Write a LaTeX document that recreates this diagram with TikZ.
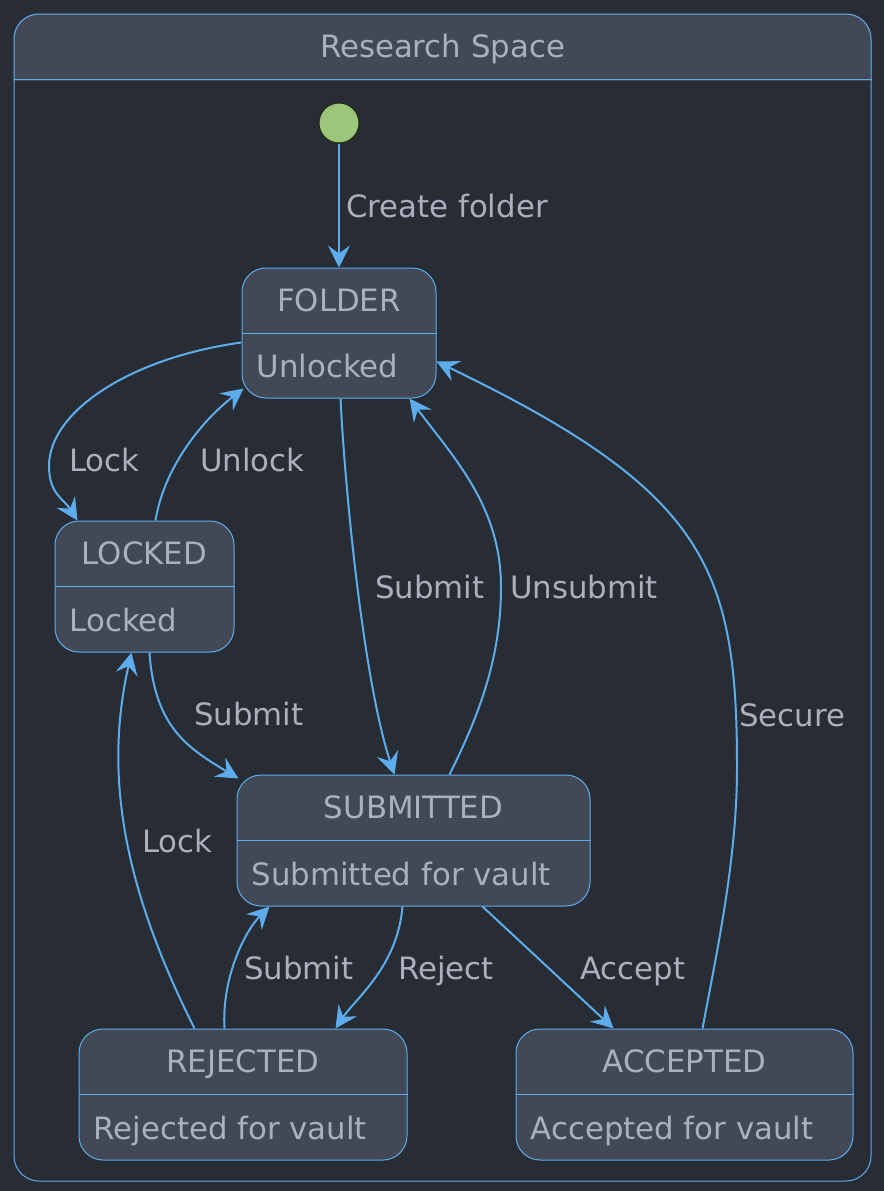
\documentclass[tikz,border=0pt]{standalone}
\usepackage{fontspec}
\setmainfont{DejaVu Sans}
\usetikzlibrary{arrows.meta,calc}
\definecolor{bg}{HTML}{282C34}
\definecolor{boxfill}{HTML}{434857}
\definecolor{edge}{HTML}{5DADEC}
\definecolor{fg}{HTML}{AAB0BE}
\definecolor{startgreen}{HTML}{9CC67A}
\definecolor{startline}{HTML}{1E2A14}
\pgfdeclarelayer{background}
\pgfsetlayers{background,main}
\begin{document}
\begin{tikzpicture}[x=1pt,y=-1pt,
  statebox/.style={draw=edge, fill=boxfill, line width=1pt, rounded corners=24pt, inner sep=0pt, minimum height=131pt},
  txt/.style={text=fg, inner sep=0pt, font=\fontsize{30.8}{36}\selectfont, text height=22.5pt, text depth=0pt},
  lbl/.style={txt, anchor=west},
  divider/.style={draw=edge, line width=1pt},
  conn/.style={draw=edge, line width=2pt, -{Stealth[length=22pt,width=22pt,inset=8pt]}}]
\useasboundingbox (0,0) rectangle (884,1191);
% container
\node[draw=edge, line width=1pt, rounded corners=25pt, minimum width=857pt, minimum height=1167pt, inner sep=0pt] (space) at (442.5,597.5) {};
\begin{pgfonlayer}{background}
  \fill[bg] (0,0) rectangle (884,1191);
  \begin{scope}
    \clip (0,0) rectangle (884,80);
    \fill[boxfill, rounded corners=25pt] (space.north west) rectangle (space.south east);
  \end{scope}
\end{pgfonlayer}
\draw[divider] ($(space.north west)+(0,66)$) -- ($(space.north east)+(0,66)$);
\node[txt] (title) at ($(space.north)+(0,33)$) {Research Space};

% initial state
\node[circle, fill=startgreen, draw=startline, line width=1pt, minimum size=40pt, inner sep=0pt] (init) at (339,123) {};

% states
\node[statebox, minimum width=194pt, minimum height=130pt] (folder) at (339,333) {};
\node[statebox, minimum width=179pt] (locked) at (144.5,586.5) {};
\node[statebox, minimum width=353pt] (submitted) at (413.5,840.5) {};
\node[statebox, minimum width=328pt] (rejected) at (243,1094.5) {};
\node[statebox, minimum width=337pt] (accepted) at (684.5,1094.5) {};

\draw[divider] (folder.west) -- (folder.east);
\draw[divider] (locked.west) -- (locked.east);
\draw[divider] (submitted.west) -- (submitted.east);
\draw[divider] (rejected.west) -- (rejected.east);
\draw[divider] (accepted.west) -- (accepted.east);

\node[txt] (folderT) at ($(folder.north)+(0,32.5)$) {FOLDER};
\node[txt, anchor=west] (folderB) at ($(folder.south west)+(15,-32.5)$) {Unlocked};
\node[txt] (lockedT) at ($(locked.north)+(0,32.5)$) {LOCKED};
\node[txt, anchor=west] (lockedB) at ($(locked.south west)+(15,-32.5)$) {Locked};
\node[txt] (submittedT) at ($(submitted.north)+(0,32.5)$) {SUBMITTED};
\node[txt, anchor=west] (submittedB) at ($(submitted.south west)+(15,-32.5)$) {Submitted for vault};
\node[txt] (rejectedT) at ($(rejected.north)+(0,32.5)$) {REJECTED};
\node[txt, anchor=west] (rejectedB) at ($(rejected.south west)+(15,-32.5)$) {Rejected for vault};
\node[txt] (acceptedT) at ($(accepted.north)+(0,32.5)$) {ACCEPTED};
\node[txt, anchor=west] (acceptedB) at ($(accepted.south west)+(15,-32.5)$) {Accepted for vault};

% via points
\coordinate (lockvia) at (49,466);
\coordinate (unsubvia) at (501,587);
\coordinate (securevia) at (737,768);

% connectors
\draw[conn] (init.south) -- (folder.north);
\draw[conn] ($(folder.north west)+(0,75)$) .. controls +(-110,15) and +(0,-55) .. (lockvia) .. controls +(0,28) and +(-14,-22) .. ($(locked.north west)+(23,0)$);
\draw[conn] ($(locked.north west)+(101,0)$) .. controls +(8,-50) and +(-45,35) .. ($(folder.south west)+(2,-10)$);
\draw[conn] ($(folder.south west)+(99,0)$) .. controls +(5,100) and +(-30,-90) .. ($(submitted.north west)+(158,0)$);
\draw[conn] ($(submitted.north west)+(213,0)$) .. controls +(30,-60) and +(0,70) .. (unsubvia) .. controls +(0,-80) and +(45,60) .. ($(folder.south west)+(168,0)$);
\draw[conn] ($(locked.south west)+(95,0)$) .. controls +(5,75) and +(-50,-30) .. ($(submitted.north west)+(2,4)$);
\draw[conn] ($(rejected.north west)+(116,0)$) .. controls (120,880) and (105,770) .. ($(locked.south west)+(77,0)$);
\draw[conn] ($(rejected.north west)+(146,0)$) .. controls +(-3,-50) and +(-25,25) .. ($(submitted.south west)+(33,0)$);
\draw[conn] ($(submitted.south west)+(166,0)$) .. controls +(-5,60) and +(20,-30) .. ($(rejected.north west)+(257,0)$);
\draw[conn] ($(submitted.south west)+(246,0)$) -- ($(accepted.north west)+(98,0)$);
\draw[conn] ($(accepted.north west)+(187,0)$) .. controls +(15,-80) and +(0,90) .. (securevia) .. controls +(0,-200) and +(270,130) .. ($(folder.north east)+(0,94)$);

% labels
\node[lbl] (lcreate) at (346,206) {Create folder};
\node[lbl] (llock1) at (69,460) {Lock};
\node[lbl] (lunlock) at (200,460) {Unlock};
\node[lbl] (lsubmit1) at (375,587) {Submit};
\node[lbl] (lunsubmit) at (510,587) {Unsubmit};
\node[lbl] (lsecure) at (739,715) {Secure};
\node[lbl] (lsubmit2) at (194,714) {Submit};
\node[lbl] (llock2) at (142,841) {Lock};
\node[lbl] (lsubmit3) at (244,968) {Submit};
\node[lbl] (lreject) at (398,968) {Reject};
\node[lbl] (laccept) at (580,968) {Accept};
\end{tikzpicture}
\end{document}
